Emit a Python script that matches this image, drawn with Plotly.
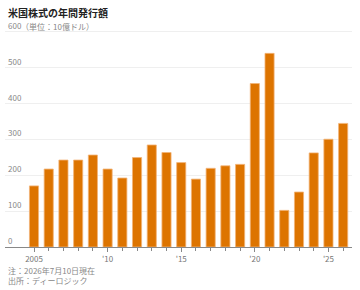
import plotly.graph_objects as go

years = list(range(2005, 2027))
values = [170, 217, 242, 242, 256, 217, 192, 249, 284, 263, 235,
          189, 219, 226, 230, 455, 539, 102, 153, 262, 300, 344]

y_ticks = [0, 100, 200, 300, 400, 500, 600]
y_ticktext = ["0", "100", "200", "300", "400", "500", "600"]
unit_text = "（単位：10億ドル）"
x_ticks = [2005, 2010, 2015, 2020, 2025]
x_ticktext = ["2005", "'10", "'15", "'20", "'25"]

title = "米国株式の年間発行額"
notes = "注：2026年7月10日現在<br>出所：ディーロジック"

font = "Noto Sans CJK JP"

fig = go.Figure()
fig.add_trace(go.Bar(
    x=years, y=values,
    marker=dict(color="#dd7400", line=dict(color="#f2b477", width=0.8)),
    width=0.62,
))

fig.update_layout(
    width=360, height=290,
    margin=dict(l=5, r=8, t=16, b=43),
    paper_bgcolor="white", plot_bgcolor="white",
    showlegend=False,
    font=dict(family=font, size=8, color="#888"),
)
fig.update_xaxes(
    range=[2003.03, 2026.6],
    tickvals=x_ticks, ticktext=x_ticktext,
    ticks="outside", ticklen=4, tickcolor="#888", tickwidth=1,
    minor=dict(dtick=1, tick0=2005, ticks="outside", ticklen=3, tickcolor="#888"),
    showline=True, linecolor="#888", linewidth=1,
    showgrid=False, zeroline=False,
    tickfont=dict(size=8, color="#777"),
)
fig.update_yaxes(
    range=[0, 643],
    tickvals=y_ticks, ticktext=y_ticktext,
    ticklabelposition="inside top",
    showgrid=True, gridcolor="#efefef", gridwidth=1,
    zeroline=False, showline=False, ticks="",
    tickfont=dict(size=8, color="#888"),
)
fig.add_annotation(
    text=unit_text, xref="paper", yref="y",
    x=0, y=y_ticks[-1], xshift=14, yshift=5, xanchor="left", yanchor="middle",
    showarrow=False, font=dict(size=8, color="#888", family=font),
)
fig.add_annotation(
    text="<b>" + title + "</b>", xref="paper", yref="paper",
    x=0, y=1, xshift=1, yshift=4, xanchor="left", yanchor="middle",
    showarrow=False, font=dict(size=10, color="#222", family=font),
)
fig.add_annotation(
    text=notes, xref="paper", yref="paper",
    x=0, y=0, xshift=1, yshift=-41, xanchor="left", yanchor="bottom",
    showarrow=False, align="left",
    font=dict(size=8, color="#888", family=font),
)
fig.write_html("out.html")
